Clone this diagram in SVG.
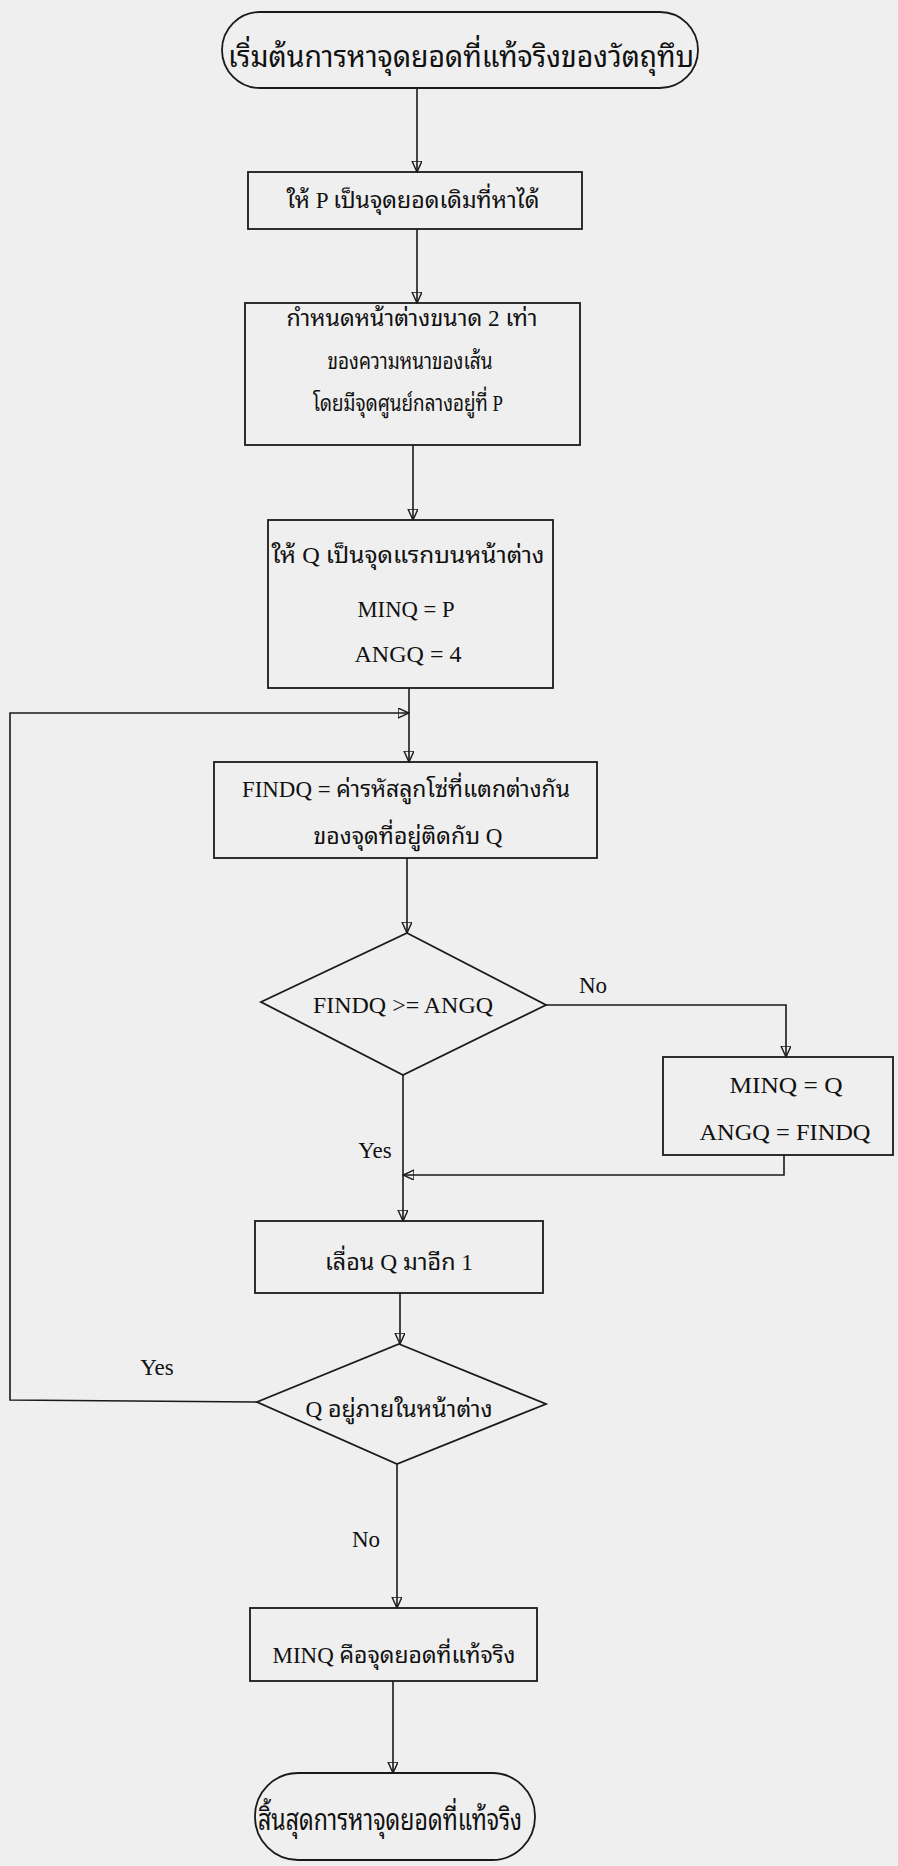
<svg xmlns="http://www.w3.org/2000/svg" width="898" height="1866" viewBox="0 0 898 1866">
<defs>
<marker id="ah" markerUnits="userSpaceOnUse" markerWidth="12" markerHeight="12" refX="11" refY="5" orient="auto">
<path d="M0,0 L11,5 L0,10 Z" fill="none" stroke="#1a1a1a" stroke-width="1.4"/>
</marker>
<style>
.s{fill:none;stroke:#1a1a1a;stroke-width:1.8}
.c{fill:none;stroke:#1a1a1a;stroke-width:1.6;marker-end:url(#ah)}
text{font-family:"Liberation Serif","Noto Sans Thai Looped","Loma","Garuda","Norasi","Noto Serif Thai","Noto Sans Thai",serif;font-size:23px;fill:#111;text-anchor:middle}
.t{font-size:30px}
.l{font-size:23px}
</style>
</defs>
<rect x="0" y="0" width="898" height="1866" fill="#efefef"/>
<g id="connectors">
<path class="c" d="M417,88 L417,172"/>
<path class="c" d="M417,229 L417,303"/>
<path class="c" d="M413,445 L413,520"/>
<path class="c" d="M409,688 L409,762"/>
<path class="c" d="M407,858 L407,933"/>
<path class="c" d="M403,1075 L403,1221"/>
<path class="c" d="M400,1293 L400,1344"/>
<path class="c" d="M397,1464 L397,1608"/>
<path class="c" d="M393,1681 L393,1773"/>
<path class="c" d="M546,1005 L786,1005 L786,1057"/>
<path class="c" d="M784,1155 L784,1175 L403,1175"/>
<path class="c" d="M257,1402 L10,1400 L10,713 L409,713"/>
<text class="l" x="593" y="993">No</text>
<text class="l" x="375" y="1158">Yes</text>
<text class="l" x="157" y="1375">Yes</text>
<text class="l" x="366" y="1547">No</text>
</g>
<g id="start">
<rect class="s" x="222" y="12" width="476" height="76" rx="38" ry="38"/>
<text class="t" x="461" y="67" textLength="466" lengthAdjust="spacingAndGlyphs">เริ่มต้นการหาจุดยอดที่แท้จริงของวัตถุทึบ</text>
</g>
<g id="box1">
<rect class="s" x="248" y="172" width="334" height="57"/>
<text x="413" y="208" textLength="253" lengthAdjust="spacingAndGlyphs">ให้ P เป็นจุดยอดเดิมที่หาได้</text>
</g>
<g id="box2">
<rect class="s" x="245" y="303" width="335" height="142"/>
<text x="412" y="326" textLength="251" lengthAdjust="spacingAndGlyphs">กำหนดหน้าต่างขนาด 2 เท่า</text>
<text x="410" y="369" textLength="165" lengthAdjust="spacingAndGlyphs">ของความหนาของเส้น</text>
<text x="408" y="411" textLength="190" lengthAdjust="spacingAndGlyphs">โดยมีจุดศูนย์กลางอยู่ที่ P</text>
</g>
<g id="box3">
<rect class="s" x="268" y="520" width="285" height="168"/>
<text x="408" y="563" textLength="273" lengthAdjust="spacingAndGlyphs">ให้ Q เป็นจุดแรกบนหน้าต่าง</text>
<text x="406" y="617" textLength="97" lengthAdjust="spacingAndGlyphs">MINQ = P</text>
<text x="408" y="662" textLength="107" lengthAdjust="spacingAndGlyphs">ANGQ = 4</text>
</g>
<g id="box4">
<rect class="s" x="214" y="762" width="383" height="96"/>
<text x="406" y="797" textLength="328" lengthAdjust="spacingAndGlyphs">FINDQ = ค่ารหัสลูกโซ่ที่แตกต่างกัน</text>
<text x="408" y="844" textLength="189" lengthAdjust="spacingAndGlyphs">ของจุดที่อยู่ติดกับ Q</text>
</g>
<g id="decision1">
<polygon class="s" points="407,933 546,1005 403,1075 261,1002"/>
<text x="403" y="1013" textLength="180" lengthAdjust="spacingAndGlyphs">FINDQ &gt;= ANGQ</text>
</g>
<g id="update">
<rect class="s" x="663" y="1057" width="230" height="98"/>
<text x="786" y="1093" textLength="113" lengthAdjust="spacingAndGlyphs">MINQ = Q</text>
<text x="785" y="1140" textLength="171" lengthAdjust="spacingAndGlyphs">ANGQ = FINDQ</text>
</g>
<g id="box5">
<rect class="s" x="255" y="1221" width="288" height="72"/>
<text x="399" y="1270" textLength="148" lengthAdjust="spacingAndGlyphs">เลื่อน Q มาอีก 1</text>
</g>
<g id="decision2">
<polygon class="s" points="399,1344 546,1404 397,1464 257,1402"/>
<text x="399" y="1417" textLength="187" lengthAdjust="spacingAndGlyphs">Q อยู่ภายในหน้าต่าง</text>
</g>
<g id="box6">
<rect class="s" x="250" y="1608" width="287" height="73"/>
<text x="394" y="1663" textLength="243" lengthAdjust="spacingAndGlyphs">MINQ คือจุดยอดที่แท้จริง</text>
</g>
<g id="end">
<rect class="s" x="255" y="1773" width="280" height="87" rx="43" ry="43"/>
<text class="t" x="390" y="1830" textLength="264" lengthAdjust="spacingAndGlyphs">สิ้นสุดการหาจุดยอดที่แท้จริง</text>
</g>
</svg>
